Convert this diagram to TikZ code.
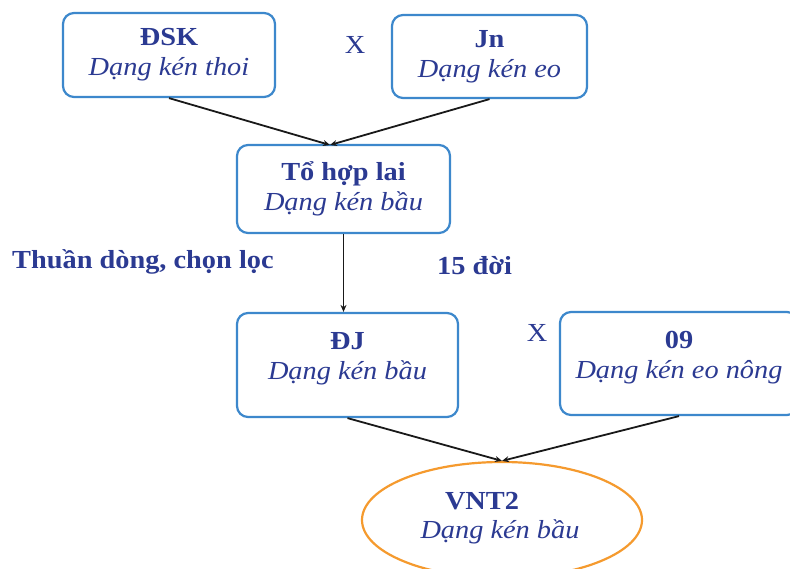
\documentclass[tikz,border=0pt]{standalone}
\usepackage{fontspec}
\setmainfont[FakeStretch=1.09]{Liberation Serif}
\usetikzlibrary{arrows.meta,shapes.geometric,calc}
\definecolor{txtblue}{HTML}{2B3A92}
\definecolor{boxblue}{HTML}{3D88CC}
\definecolor{ovalorange}{HTML}{F59A2E}
\begin{document}
\begin{tikzpicture}[x=1pt,y=-1pt,
  stagebox/.style={draw=boxblue, line width=2.2pt, rounded corners=11pt, fill=white,
    text=txtblue, align=center, inner sep=0pt,
    font=\fontsize{26}{30}\selectfont},
  plainlabel/.style={text=txtblue, inner sep=0pt, font=\fontsize{26}{30}\selectfont},
  link/.style={draw=black!90, line width=1.8pt, -{Stealth[length=7pt,width=6pt]}}]
\useasboundingbox (0,0) rectangle (790,568);
\fill[white] (0,0) rectangle (790,568);

\node[stagebox, minimum width=212pt, minimum height=84pt] (dsk) at (169,55)
  {\textbf{ĐSK}\\\textit{Dạng kén thoi}};
\node[stagebox, minimum width=195pt, minimum height=83pt] (jn) at (489.5,56.5)
  {\textbf{Jn}\\\textit{Dạng kén eo}};
\node[plainlabel] (x1) at (355,45) {X};

\node[stagebox, minimum width=213pt, minimum height=88pt] (thl) at (343.5,189)
  {\textbf{Tổ hợp lai}\\\textit{Dạng kén bầu}};

\node[plainlabel, anchor=west, font=\fontsize{26}{30}\selectfont\bfseries] (td) at (12,262) {Thuần dòng, chọn lọc};
\node[plainlabel, anchor=west, font=\fontsize{26}{30}\selectfont\bfseries] (gen) at (437,266) {15 đời};

\node[stagebox, minimum width=221pt, minimum height=104pt] (dj) at (347.5,365)
  {\textbf{ĐJ}\\\textit{Dạng kén bầu}\\[-12pt]\mbox{}};
\node[plainlabel] (x2) at (537,333) {X};
\node[stagebox, minimum width=238pt, minimum height=103pt] (o9) at (679,363.5)
  {\textbf{09}\\\textit{Dạng kén eo nông}\\[-12pt]\mbox{}};

\node[draw=ovalorange, line width=2.2pt, ellipse, minimum width=280pt, minimum height=116pt,
  inner sep=0pt, fill=white] (vnt) at (502,520) {};
\node[plainlabel, font=\fontsize{26}{30}\selectfont\bfseries] (vntt) at (482,501) {VNT2};
\node[plainlabel, font=\fontsize{26}{30}\selectfont\itshape] (vnts) at (500,532) {Dạng kén bầu};

\coordinate (meet) at (330,145);
\draw[link] (dsk.south) -- (meet);
\draw[link] (jn.south) -- (meet);
\draw[link] (thl.south) -- (thl.south |- dj.north);
\draw[link] (dj.south) -- (vnt.north);
\draw[link] (o9.south) -- (vnt.north);
\end{tikzpicture}
\end{document}
